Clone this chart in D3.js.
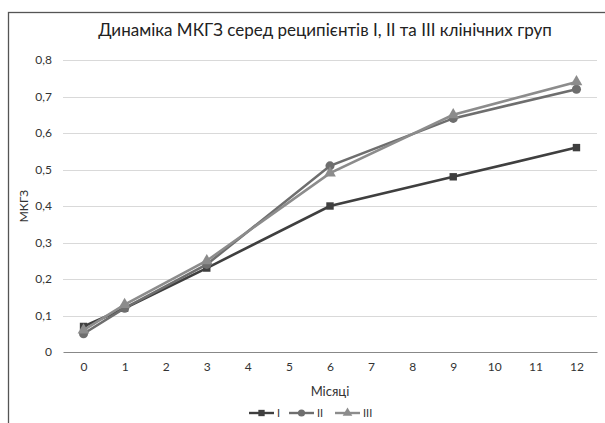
<!DOCTYPE html>
<html>
<head>
<meta charset="utf-8">
<script src="https://cdn.jsdelivr.net/npm/d3@7"></script>
<style>
  body { margin: 0; background: #fff; }
  text { font-family: Lato, "Open Sans", sans-serif; }
</style>
</head>
<body>
<div id="chart"></div>
<script>
var months = ["0", "1", "2", "3", "4", "5", "6", "7", "8", "9", "10", "11", "12"];
var pointMonths = ["0", "1", "3", "6", "9", "12"];
var seriesI = [0.07, 0.12, 0.23, 0.40, 0.48, 0.56];
var seriesII = [0.05, 0.12, 0.24, 0.51, 0.64, 0.72];
var seriesIII = [0.06, 0.13, 0.25, 0.49, 0.65, 0.74];
var seriesNames = ["I", "II", "III"];
var yTicks = [0, 0.1, 0.2, 0.3, 0.4, 0.5, 0.6, 0.7, 0.8];

var svgWidth = 605;
var svgHeight = 423;
var margin = { top: 60, right: 8, bottom: 71, left: 63 };
var width = svgWidth - margin.left - margin.right;
var height = svgHeight - margin.top - margin.bottom;

var svg = d3.select("#chart")
  .append("svg")
  .attr("width", svgWidth)
  .attr("height", svgHeight);

// chart frame
svg.append("rect")
  .attr("x", 8.5).attr("y", 12.5)
  .attr("width", 620).attr("height", 440)
  .attr("fill", "none")
  .attr("stroke", "#555")
  .attr("stroke-width", 1.3);

svg.append("text")
  .attr("x", 325).attr("y", 36)
  .attr("text-anchor", "middle")
  .attr("font-size", 17)
  .attr("fill", "#222")
  .text("Динаміка МКГЗ серед реципієнтів І, ІІ та ІІІ клінічних груп");

var g = svg.append("g")
  .attr("transform", "translate(" + margin.left + "," + margin.top + ")");

var x = d3.scalePoint()
  .domain(months)
  .range([0, width])
  .padding(0.5);

var y = d3.scaleLinear()
  .domain([0, 0.8])
  .range([height, 0]);

// grid
g.selectAll(".grid")
  .data(yTicks.slice(1))
  .enter()
  .append("line")
  .attr("x1", 0).attr("x2", width)
  .attr("y1", function(d) { return Math.round(y(d)) + 0.5; })
  .attr("y2", function(d) { return Math.round(y(d)) + 0.5; })
  .attr("stroke", "#d9d9d9")
  .attr("stroke-width", 1);

var yAxis = g.append("g")
  .call(d3.axisLeft(y).tickValues(yTicks).tickSize(0).tickPadding(11)
    .tickFormat(function(d) { return d === 0 ? "0" : d3.format(".1f")(d).replace(".", ","); }));
yAxis.select(".domain").remove();
yAxis.selectAll("text").attr("font-size", 12).attr("fill", "#333").attr("font-family", "Lato, sans-serif");

var xAxis = g.append("g")
  .attr("transform", "translate(0," + height + ")")
  .call(d3.axisBottom(x).tickSize(0).tickPadding(10));
xAxis.select(".domain").attr("stroke", "#888").attr("stroke-width", 1.2);
xAxis.selectAll("text").attr("font-size", 12).attr("fill", "#333").attr("font-family", "Lato, sans-serif");

svg.append("text")
  .attr("x", 330).attr("y", 396)
  .attr("text-anchor", "middle")
  .attr("font-size", 13)
  .attr("fill", "#333")
  .text("Місяці");

svg.append("text")
  .attr("transform", "translate(28," + (margin.top + height / 2) + ") rotate(-90)")
  .attr("text-anchor", "middle")
  .attr("font-size", 12)
  .attr("fill", "#333")
  .text("МКГЗ");

var allSeries = [
  { name: seriesNames[0], values: seriesI, color: "#3f3f3f", symbol: d3.symbolSquare, size: 55 },
  { name: seriesNames[1], values: seriesII, color: "#6e6e6e", symbol: d3.symbolCircle, size: 65 },
  { name: seriesNames[2], values: seriesIII, color: "#8c8c8c", symbol: d3.symbolTriangle, size: 60 }
];

var line = d3.line()
  .x(function(d, i) { return x(pointMonths[i]); })
  .y(function(d) { return y(d); });

allSeries.forEach(function(s) {
  g.append("path")
    .datum(s.values)
    .attr("fill", "none")
    .attr("stroke", s.color)
    .attr("stroke-width", 2.6)
    .attr("d", line);
  g.selectAll(null)
    .data(s.values)
    .enter()
    .append("path")
    .attr("transform", function(d, i) { return "translate(" + x(pointMonths[i]) + "," + y(d) + ")"; })
    .attr("d", d3.symbol().type(s.symbol).size(s.size))
    .attr("fill", s.color);
});

// legend
var legend = svg.append("g").attr("transform", "translate(249,413)");
var offsets = [0, 40, 86];
allSeries.forEach(function(s, i) {
  var lg = legend.append("g").attr("transform", "translate(" + offsets[i] + ",0)");
  lg.append("line").attr("x1", 0).attr("x2", 25).attr("stroke", s.color).attr("stroke-width", 2.4);
  lg.append("path").attr("transform", "translate(12.5,0)")
    .attr("d", d3.symbol().type(s.symbol).size(40)).attr("fill", s.color);
  lg.append("text").attr("x", 28).attr("y", 4).attr("font-size", 11).attr("fill", "#333").text(s.name);
});
</script>
</body>
</html>
